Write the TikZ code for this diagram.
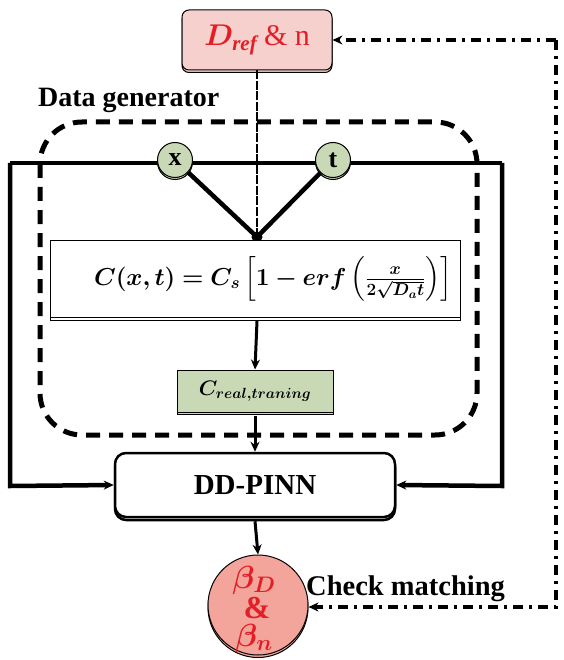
\RequirePackage{fix-cm}
\documentclass[tikz,border=0pt]{standalone}
\usepackage{amsmath}
\usepackage{bm}
\usepackage{fontspec}
\setmainfont{Liberation Serif}
\usetikzlibrary{arrows.meta,shadows}
\definecolor{pinkbox}{HTML}{F5D0CC}
\definecolor{redtxt}{HTML}{E41E26}
\definecolor{greenfill}{HTML}{C9D9B5}
\definecolor{salmon}{HTML}{F3A59B}
\tikzset{
  arr/.style={-{Stealth[length=10pt,width=9pt]}},
  thickline/.style={line width=4.5pt},
  topbox/.style={draw, fill=pinkbox, rounded corners=7pt, minimum width=150pt, minimum height=60pt, line width=1pt,
    copy shadow={shadow xshift=0pt, shadow yshift=-2.5pt, fill=pinkbox, draw}},
  vcirc/.style={circle, draw, fill=greenfill, minimum size=35pt, inner sep=0pt, line width=1pt,
    copy shadow={shadow xshift=0pt, shadow yshift=-2pt, fill=greenfill, draw}},
  eqbox/.style={draw, fill=white, minimum width=410pt, minimum height=77pt, line width=1pt,
    copy shadow={shadow xshift=0pt, shadow yshift=-3pt, fill=white, draw}},
  crbox/.style={draw, fill=greenfill, minimum width=156pt, minimum height=42pt, line width=1pt, inner sep=0pt,
    copy shadow={shadow xshift=0pt, shadow yshift=-2.5pt, fill=greenfill, draw}},
  ddbox/.style={draw, fill=white, rounded corners=11pt, minimum width=280pt, minimum height=64pt, line width=2.5pt,
    copy shadow={shadow xshift=0pt, shadow yshift=-3pt, fill=white, draw, line width=2.5pt}},
  betacirc/.style={circle, draw, fill=salmon, minimum size=100pt, inner sep=0pt, line width=1pt,
    copy shadow={shadow xshift=0pt, shadow yshift=-2.5pt, fill=salmon, draw}},
  btext/.style={text=redtxt, inner sep=0pt, font=\fontsize{32}{32}\selectfont},
  dgbox/.style={line width=5pt, dash pattern=on 14pt off 9pt, rounded corners=42pt},
  dashdot/.style={line width=4pt, dash pattern=on 10pt off 6pt on 3pt off 6pt},
  label/.style={inner sep=0pt},
}
\begin{document}
\begin{tikzpicture}[x=1pt,y=-1pt]
\useasboundingbox (0,0) rectangle (563,660);
% data generator dashed box
\draw[dgbox] (40,122) rectangle (477,435);
\node[label, anchor=south west, font=\fontsize{28}{30}\selectfont\bfseries] (dglab) at (38,113) {Data generator};
% top box
\node[topbox] (top) at (257,40) {\fontsize{30}{32}\selectfont\color{redtxt}$\bm{D}_{\textbf{\textit{ref}}}$\,\& n};
% thick frame lines
\coordinate (hl) at (10,163);
\coordinate (hr) at (502,163);
\coordinate (bl) at (10,486);
\coordinate (br) at (502,486);
\draw[thickline] (hl) -- (hr);
% junction
\coordinate (j) at (257,237);
\draw[line width=2pt, dash pattern=on 9pt off 1.5pt] (top.south) -- (j);
% variable circles
\node[vcirc] (x) at (175,160) {\fontsize{26}{28}\selectfont\bfseries x};
\node[vcirc] (t) at (333,160) {\fontsize{26}{28}\selectfont\bfseries t};
\draw[thickline] (x) -- (j);
\draw[thickline] (t) -- (j);
\fill (j) circle (5.5pt);
% equation box
\node[eqbox] (eq) at (255,279) {\hspace{36pt}\fontsize{24.5}{28}\selectfont $\bm{C(x,t)=C_s\left[1-erf\left(\frac{x}{2\sqrt{D_a t}}\right)\right]}$};
% C real training
\node[crbox] (cr) at (255,391) {\fontsize{21}{24}\selectfont $\bm{C_{real,traning}}$};
% DD-PINN
\node[ddbox] (dd) at (255,485) {\fontsize{29}{30}\selectfont\bfseries DD-PINN};
% beta circle
\node[betacirc] (beta) at (258,605) {};
\node[btext, anchor=base] (bD) at (254,588) {$\bm{\beta_D}$};
\node[btext, anchor=base] (amp) at (257,618) {\textbf{\&}};
\node[btext, anchor=base] (bn) at (254,646) {$\bm{\beta_n}$};
% arrows
\draw[line width=3pt, arr] (j |- eq.south) ++(0,3) -- (cr.north);
\draw[line width=3pt, arr] (cr.south) ++(0,3) -- (dd.north);
\draw[line width=3pt, arr] (dd.south) ++(0,3) -- (beta.north);
\draw[thickline, arr] (hl) -- (bl) -- (dd.west);
\draw[thickline, arr] (hr) -- (br) -- (dd.east);
% feedback dash-dot
\coordinate (fr1) at (556,40);
\coordinate (fr2) at (556,607);
\draw[dashdot, arr] (fr1) -- (top.east);
\draw[dashdot, arr] (fr1) -- (fr2) -- (beta.east |- fr2);
\node[label, anchor=south west, font=\fontsize{28.5}{30}\selectfont\bfseries] (chk) at (306,602) {Check matching};
\end{tikzpicture}
\end{document}
